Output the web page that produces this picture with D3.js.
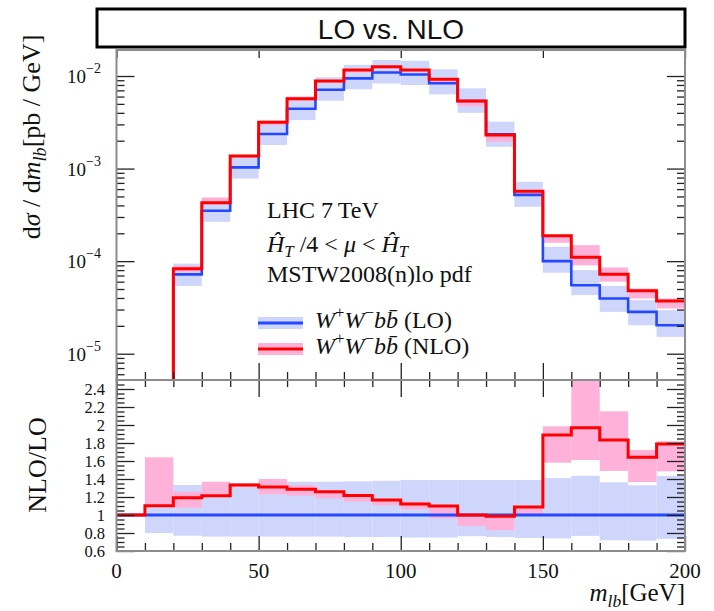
<!DOCTYPE html>
<html>
<head>
<meta charset="utf-8">
<script src="https://cdn.jsdelivr.net/npm/d3@7"></script>
<style>
body { margin: 0; background: #fff; }
text { font-family: "Liberation Serif", serif; fill: #111; }
</style>
</head>
<body>
<svg id="chart" width="714" height="611"></svg>
<script>
// top panel, bins start at 10 GeV (bin 10-20 lies below the axis)
var top_bins = [10, 20, 30, 40, 50, 60, 70, 80, 90, 100, 110, 120, 130, 140, 150, 160, 170, 180, 190];
var lo_xs   = [3.0e-6, 7.2e-5, 3.5e-4, 1.03e-3, 2.36e-3, 4.43e-3, 7.11e-3, 9.44e-3, 1.09e-2, 1.04e-2, 8.36e-3, 5.37e-3, 2.34e-3, 5.2e-4, 1.0e-4, 5.5e-5, 3.95e-5, 2.83e-5, 2.03e-5];
var nlo_xs  = [3.3e-6, 8.3e-5, 4.27e-4, 1.365e-3, 3.16e-3, 5.69e-3, 8.83e-3, 1.16e-2, 1.26e-2, 1.16e-2, 9.2e-3, 5.37e-3, 2.30e-3, 5.7e-4, 1.88e-4, 1.10e-4, 7.23e-5, 4.78e-5, 3.72e-5];
var lo_min  = [2.4e-6, 5.4e-5, 2.66e-4, 7.8e-4, 1.80e-3, 3.34e-3, 5.41e-3, 7.18e-3, 8.3e-3, 8.0e-3, 6.34e-3, 4.0e-3, 1.72e-3, 3.86e-4, 7.5e-5, 4.3e-5, 2.83e-5, 2.03e-5, 1.52e-5];
var lo_max  = [4.0e-6, 9.4e-5, 4.7e-4, 1.38e-3, 3.1e-3, 5.9e-3, 9.7e-3, 1.32e-2, 1.49e-2, 1.46e-2, 1.18e-2, 7.36e-3, 3.21e-3, 7.2e-4, 1.43e-4, 8.0e-5, 5.4e-5, 3.79e-5, 2.95e-5];
var nlo_min = [3.2e-6, 7.6e-5, 4.13e-4, 1.33e-3, 2.95e-3, 5.4e-3, 8.4e-3, 1.09e-2, 1.20e-2, 1.12e-2, 8.1e-3, 4.7e-3, 1.96e-3, 5.25e-4, 1.58e-4, 9.0e-5, 6.0e-5, 3.95e-5, 3.08e-5];
var nlo_max = [5.0e-6, 8.9e-5, 4.88e-4, 1.40e-3, 3.3e-3, 6.0e-3, 8.9e-3, 1.16e-2, 1.28e-2, 1.19e-2, 9.2e-3, 5.37e-3, 2.30e-3, 5.7e-4, 1.91e-4, 1.49e-4, 8.55e-5, 5.06e-5, 3.95e-5];

// ratio panel, bins start at 0 GeV
var ratio_bins = [0, 10, 20, 30, 40, 50, 60, 70, 80, 90, 100, 110, 120, 130, 140, 150, 160, 170, 180, 190];
var ratio_lo     = [1, 1, 1, 1, 1, 1, 1, 1, 1, 1, 1, 1, 1, 1, 1, 1, 1, 1, 1, 1];
var ratio_nlo    = [1.0, 1.104, 1.193, 1.215, 1.333, 1.31, 1.287, 1.259, 1.218, 1.167, 1.122, 1.10, 1.0, 0.987, 1.09, 1.889, 1.970, 1.833, 1.641, 1.789];
var ratio_lo_min = [null, 0.80, 0.77, 0.76, 0.76, 0.76, 0.76, 0.76, 0.755, 0.755, 0.75, 0.75, 0.765, 0.755, 0.745, 0.74, 0.768, 0.72, 0.715, 0.735];
var ratio_lo_max = [null, 1.33, 1.333, 1.35, 1.356, 1.36, 1.37, 1.37, 1.374, 1.38, 1.389, 1.389, 1.389, 1.389, 1.389, 1.41, 1.435, 1.363, 1.33, 1.435];
var ratio_nlo_min = [null, 1.09, 1.081, 1.20, 1.31, 1.23, 1.215, 1.185, 1.148, 1.108, 1.065, 0.963, 0.878, 0.83, 1.0, 1.581, 1.611, 1.49, 1.365, 1.485];
var ratio_nlo_max = [null, 1.641, 1.259, 1.37, 1.35, 1.40, 1.33, 1.275, 1.222, 1.167, 1.148, 1.10, 1.0, 0.987, 1.09, 1.985, 2.6, 2.152, 1.722, 1.82];

var x_major = [0, 50, 100, 150, 200];
var ratio_ticks = [0.6, 0.8, 1, 1.2, 1.4, 1.6, 1.8, 2, 2.2, 2.4];
var log_ticks = [-2, -3, -4, -5];

var bin_w = 10;
var c_lo_band = "#cfd6fb", c_nlo_band = "#ffb2d9", c_lo = "#2448ff", c_nlo = "#ff0000";

var svg = d3.select("#chart");

var x = d3.scaleLinear().domain([0, 200]).range([116.5, 685]);
var y_top = d3.scaleLog().domain([Math.pow(10, -5.284), Math.pow(10, -1.719)]).range([380, 50]);
var y_rat = d3.scaleLinear().domain([0.6, 2.5]).range([551, 380]);

// clip paths
var defs = svg.append("defs");
defs.append("clipPath").attr("id", "clip_top").append("rect")
   .attr("x", x(0)).attr("y", y_top.range()[1]).attr("width", x(200) - x(0)).attr("height", y_top.range()[0] - y_top.range()[1]);
defs.append("clipPath").attr("id", "clip_rat").append("rect")
   .attr("x", x(0)).attr("y", y_rat.range()[1]).attr("width", x(200) - x(0)).attr("height", y_rat.range()[0] - y_rat.range()[1]);

function step_points(bins, vals) {
   var pts = bins.map(function(b, i) { return [b, vals[i]]; });
   pts.push([bins[bins.length - 1] + bin_w, vals[vals.length - 1]]);
   return pts;
}

function draw_bands(g, bins, lo, hi, y, color) {
   g.selectAll(null).data(bins.map(function(b, i) { return { b: b, lo: lo[i], hi: hi[i] }; })
         .filter(function(d) { return d.lo != null; }))
      .enter().append("rect")
      .attr("x", function(d) { return x(d.b); })
      .attr("width", function(d) { return x(d.b + bin_w) - x(d.b); })
      .attr("y", function(d) { return y(d.hi); })
      .attr("height", function(d) { return y(d.lo) - y(d.hi); })
      .attr("fill", color);
}

function draw_step(g, bins, vals, y, color, w) {
   var line = d3.line().x(function(d) { return x(d[0]); }).y(function(d) { return y(d[1]); }).curve(d3.curveStepAfter);
   g.append("path").attr("d", line(step_points(bins, vals)))
      .attr("fill", "none").attr("stroke", color).attr("stroke-width", w).attr("stroke-linejoin", "miter");
}

// ---- top panel data ----
var g_top = svg.append("g").attr("clip-path", "url(#clip_top)");
draw_bands(g_top, top_bins, lo_min, lo_max, y_top, c_lo_band);
draw_bands(g_top, top_bins, nlo_min, nlo_max, y_top, c_nlo_band);
draw_step(g_top, top_bins, lo_xs, y_top, c_lo, 2.6);
draw_step(g_top, top_bins, nlo_xs, y_top, c_nlo, 3);

// ---- ratio panel data ----
var g_rat = svg.append("g").attr("clip-path", "url(#clip_rat)");
draw_bands(g_rat, ratio_bins, ratio_lo_min, ratio_lo_max, y_rat, c_lo_band);
draw_bands(g_rat, ratio_bins, ratio_nlo_min, ratio_nlo_max, y_rat, c_nlo_band);
draw_step(g_rat, ratio_bins, ratio_lo, y_rat, c_lo, 3);
draw_step(g_rat, ratio_bins, ratio_nlo, y_rat, c_nlo, 3);

// ---- ticks ----
var x_minor = d3.range(0, 201, 10).filter(function(v) { return x_major.indexOf(v) < 0; });
var log_minor = [];
[-6, -5, -4, -3, -2].forEach(function(e) {
   d3.range(2, 10).forEach(function(m) {
      var v = m * Math.pow(10, e);
      if (v > y_top.domain()[0] && v < y_top.domain()[1]) log_minor.push(v);
   });
});
var rat_minor = d3.range(0.6, 2.5, 0.05).filter(function(v) { return Math.abs(v * 5 - Math.round(v * 5)) > 0.01; });

function tick_axis(axis, tx, ty, values, size) {
   svg.append("g").attr("transform", "translate(" + tx + "," + ty + ")").attr("color", "#222")
      .call(axis.tickValues(values).tickSize(size).tickSizeOuter(0).tickFormat(""))
      .call(function(g) { g.select(".domain").remove(); g.selectAll("line").attr("stroke-width", 1.3); });
}
// top panel
tick_axis(d3.axisTop(x), 0, 50, x_major, -8);
tick_axis(d3.axisBottom(x), 0, 380, x_major, -17);
tick_axis(d3.axisBottom(x), 0, 380, x_minor, -8);
tick_axis(d3.axisLeft(y_top), x(0), 0, log_ticks.map(function(e) { return Math.pow(10, e); }), -18);
tick_axis(d3.axisLeft(y_top), x(0), 0, log_minor, -8);
tick_axis(d3.axisRight(y_top), x(200), 0, log_ticks.map(function(e) { return Math.pow(10, e); }), -18);
tick_axis(d3.axisRight(y_top), x(200), 0, log_minor, -8);
// ratio panel
tick_axis(d3.axisTop(x), 0, 380, x_major, -17);
tick_axis(d3.axisTop(x), 0, 380, x_minor, -7);
tick_axis(d3.axisBottom(x), 0, 551, x_major, -15);
tick_axis(d3.axisBottom(x), 0, 551, x_minor, -8);
tick_axis(d3.axisLeft(y_rat), x(0), 0, ratio_ticks, -18);
tick_axis(d3.axisLeft(y_rat), x(0), 0, rat_minor, -8);
tick_axis(d3.axisRight(y_rat), x(200), 0, ratio_ticks, -18);
tick_axis(d3.axisRight(y_rat), x(200), 0, rat_minor, -8);

// frames
[[50, 380], [380, 551]].forEach(function(p) {
   svg.append("rect").attr("x", x(0)).attr("y", p[0]).attr("width", x(200) - x(0)).attr("height", p[1] - p[0])
      .attr("fill", "none").attr("stroke", "#8c8c8c").attr("stroke-width", 2);
});

// ---- rich text helper ----
function rich(t, parts, size) {
   var shift = 0;
   parts.forEach(function(p) {
      var target = p.sup ? -0.4 * size : (p.sub ? 0.22 * size : 0);
      var ts = t.append("tspan").text(p.t).attr("dy", target - shift)
         .attr("font-size", (p.sup || p.sub) ? size * 0.7 : size);
      if (p.i) ts.attr("font-style", "italic");
      shift = target;
   });
   return t;
}

// tick labels
log_ticks.forEach(function(e) {
   var t = svg.append("text").attr("x", 101).attr("y", y_top(Math.pow(10, e)) + 7).attr("text-anchor", "end");
   t.append("tspan").text("10").attr("font-size", 19);
   t.append("tspan").text("\u2212" + (-e)).attr("font-size", 14).attr("dy", -10);
});
ratio_ticks.forEach(function(v) {
   svg.append("text").attr("x", 105).attr("y", y_rat(v) + 5.5).attr("text-anchor", "end")
      .attr("font-size", 16.5).attr("textLength", null).text(d3.format("")(+v.toFixed(1)));
});
x_major.forEach(function(v) {
   svg.append("text").attr("x", x(v)).attr("y", 578).attr("text-anchor", "middle").attr("font-size", 21).text(v);
});

// axis titles
rich(svg.append("text").attr("text-anchor", "middle").attr("transform", "translate(40,137) rotate(-90)"),
   [{ t: "d" }, { t: "\u03c3", i: 1 }, { t: " / d" }, { t: "m", i: 1 }, { t: "lb", i: 1, sub: 1 }, { t: "[pb / GeV]" }], 26);
svg.append("text").attr("text-anchor", "middle").attr("transform", "translate(46,465) rotate(-90)")
   .attr("font-size", 26).text("NLO/LO");
rich(svg.append("text").attr("text-anchor", "end").attr("x", 685).attr("y", 601),
   [{ t: "m", i: 1 }, { t: "lb", i: 1, sub: 1 }, { t: "[GeV]" }], 25);

// annotations
svg.append("text").attr("x", 267).attr("y", 218).attr("font-size", 24).text("LHC 7\u2009TeV");
rich(svg.append("text").attr("x", 267).attr("y", 252),
   [{ t: "\u0124", i: 1 }, { t: "T", i: 1, sub: 1 }, { t: " /4 < " }, { t: "\u03bc", i: 1 }, { t: " < " },
    { t: "\u0124", i: 1 }, { t: "T", i: 1, sub: 1 }], 24);
svg.append("text").attr("x", 267).attr("y", 282).attr("font-size", 24).text("MSTW2008(n)lo pdf");

// legend
var legend = [
   { label: " (LO)", band: c_lo_band, line: c_lo, y: 323 },
   { label: " (NLO)", band: c_nlo_band, line: c_nlo, y: 349 }
];
legend.forEach(function(d) {
   svg.append("rect").attr("x", 258).attr("y", d.y - 6).attr("width", 45).attr("height", 12).attr("fill", d.band);
   svg.append("line").attr("x1", 258).attr("x2", 303).attr("y1", d.y).attr("y2", d.y)
      .attr("stroke", d.line).attr("stroke-width", 3);
   rich(svg.append("text").attr("x", 315).attr("y", d.y + 5),
      [{ t: "W", i: 1 }, { t: "+", sup: 1 }, { t: "W", i: 1 }, { t: "\u2212", sup: 1 },
       { t: "b", i: 1 }, { t: "b\u0304", i: 1 }, { t: d.label }], 24);
});

// title box
svg.append("rect").attr("x", 97).attr("y", 9).attr("width", 588).attr("height", 38)
   .attr("fill", "#fff").attr("stroke", "#000").attr("stroke-width", 3);
svg.append("text").attr("x", 391).attr("y", 39).attr("text-anchor", "middle")
   .style("font-family", "'Liberation Sans', Arial, sans-serif").attr("font-size", 28).text("LO vs. NLO");
</script>
</body>
</html>
